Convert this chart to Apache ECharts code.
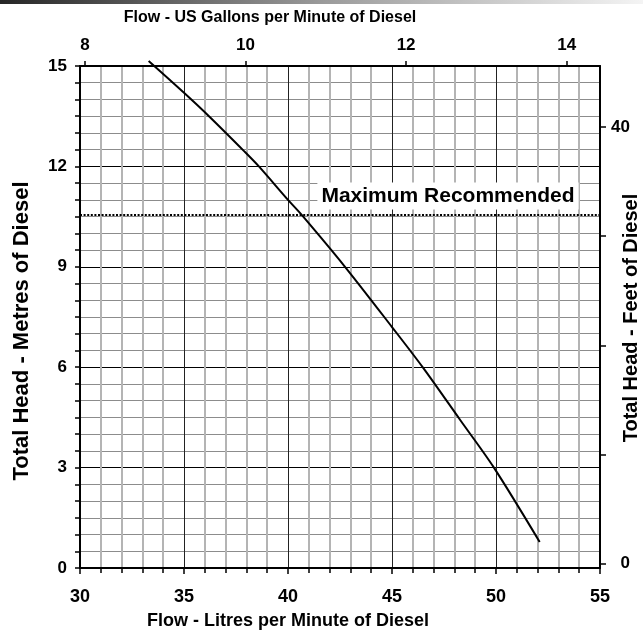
<!DOCTYPE html>
<html>
<head>
<meta charset="utf-8">
<script src="https://cdn.jsdelivr.net/npm/echarts@6/dist/echarts.min.js"></script>
<style>
  html, body { margin: 0; padding: 0; background: #fff; }
  #chart { width: 643px; height: 635px; }
</style>
</head>
<body>
<div id="chart"></div>
<script>
// pump curve
const litres = [33.3, 35.0, 36.2, 37.9, 38.6, 40.0, 40.66, 42.74, 45.0, 46.5, 48.27, 49.9, 52.1]
const metres = [15.15, 14.2, 13.5, 12.45, 12.0, 11.0, 10.55, 9.0, 7.2, 5.98, 4.43, 3.0, 0.78]
const maxRecommended = 10.55
const gallonTicks = [8, 10, 12, 14]
const feetTicks = [0, 10, 20, 30, 40]
const feetLabels = [0, 40]

const font = 'Liberation Sans, Arial, sans-serif'
const black = '#000'

const chart = echarts.init(document.getElementById('chart'))

const boldLabel = (size, extra) => Object.assign({
  color: black, fontSize: size, fontWeight: 'bold', fontFamily: font
}, extra)

chart.setOption({
  animation: false,
  grid: { left: 80, right: 43, top: 66, bottom: 67 },
  xAxis: [
    {
      type: 'value', position: 'bottom', min: 30, max: 55, interval: 5,
      axisLine: { show: true, onZero: false, lineStyle: { color: black, width: 2 } },
      axisTick: { show: true, length: 6, lineStyle: { color: black, width: 1.5 } },
      minorTick: { show: true, splitNumber: 5, length: 5, lineStyle: { color: black, width: 1.5 } },
      axisLabel: boldLabel(18, { margin: 20 }),
      splitLine: { show: true, lineStyle: { color: '#222', width: 1 } },
      minorSplitLine: { show: true, lineStyle: { color: '#b4b4b4', width: 2 } }
    },
    {
      type: 'value', position: 'top', min: 7.938, max: 14.415,
      axisLine: { show: true, onZero: false, lineStyle: { color: black, width: 2 } },
      axisTick: { show: true, length: 5, customValues: gallonTicks, lineStyle: { color: black, width: 1.5 } },
      axisLabel: boldLabel(17, { margin: 12, customValues: gallonTicks }),
      splitLine: { show: false }
    }
  ],
  yAxis: [
    {
      type: 'value', position: 'left', min: 0, max: 15, interval: 3,
      axisLine: { show: true, onZero: false, lineStyle: { color: black, width: 2 } },
      axisTick: { show: true, length: 5, lineStyle: { color: black, width: 1.5 } },
      minorTick: { show: true, splitNumber: 6, length: 5, lineStyle: { color: black, width: 1.5 } },
      axisLabel: boldLabel(17, { margin: 13 }),
      splitLine: { show: true, lineStyle: { color: black, width: 1 } },
      minorSplitLine: { show: true, lineStyle: { color: '#8c8c8c', width: 1 } }
    },
    {
      type: 'value', position: 'right', min: -0.4, max: 45.6,
      axisLine: { show: true, onZero: false, lineStyle: { color: black, width: 2 } },
      axisTick: { show: true, length: 6, customValues: feetTicks, lineStyle: { color: black, width: 1.5 } },
      axisLabel: boldLabel(17, { margin: 30, align: 'right', customValues: feetLabels }),
      splitLine: { show: false }
    }
  ],
  series: [
    {
      type: 'line',
      xAxisIndex: 0,
      yAxisIndex: 0,
      data: litres.map((l, i) => [l, metres[i]]),
      symbol: 'none',
      smooth: 0.3,
      clip: false,
      z: 5,
      lineStyle: { color: black, width: 2 },
      markLine: {
        silent: true,
        symbol: 'none',
        label: { show: false },
        lineStyle: { color: black, width: 2, type: [2, 1.6] },
        data: [{ yAxis: maxRecommended }]
      }
    }
  ],
  graphic: [
    {
      type: 'rect', left: 0, top: 0, silent: true,
      shape: { width: 643, height: 4 },
      style: {
        fill: new echarts.graphic.LinearGradient(0, 0, 1, 0, [
          { offset: 0, color: '#262626' },
          { offset: 0.5, color: '#9a9a9a' },
          { offset: 1, color: '#f4f4f4' }
        ])
      }
    },
    {
      type: 'text', x: 448, y: 196, z: 10,
      style: {
        text: 'Maximum Recommended', fill: black, font: 'bold 21px ' + font,
        align: 'center', verticalAlign: 'middle',
        backgroundColor: '#fff', padding: [3, 4]
      }
    },
    {
      type: 'text', x: 270, y: 18,
      style: {
        text: 'Flow - US Gallons per Minute of Diesel', fill: black, font: 'bold 16px ' + font,
        align: 'center', verticalAlign: 'middle'
      }
    },
    {
      type: 'text', x: 288, y: 621,
      style: {
        text: 'Flow - Litres per Minute of Diesel', fill: black, font: 'bold 18px ' + font,
        align: 'center', verticalAlign: 'middle'
      }
    },
    {
      type: 'text', x: 22, y: 331, rotation: Math.PI / 2,
      style: {
        text: 'Total Head - Metres of Diesel', fill: black, font: 'bold 22px ' + font,
        align: 'center', verticalAlign: 'middle'
      }
    },
    {
      type: 'text', x: 631, y: 318, rotation: Math.PI / 2,
      style: {
        text: 'Total Head - Feet of Diesel', fill: black, font: 'bold 20px ' + font,
        align: 'center', verticalAlign: 'middle'
      }
    }
  ]
})

window.addEventListener('resize', () => chart.resize())
</script>
</body>
</html>
